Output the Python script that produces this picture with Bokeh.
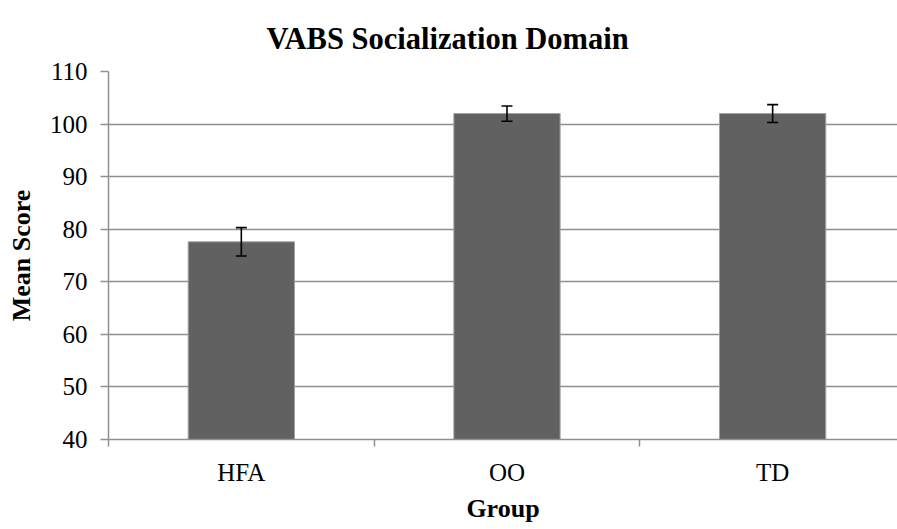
from bokeh.plotting import figure
from bokeh.models import Range1d, FixedTicker, ColumnDataSource, Whisker, TeeHead
from bokeh.embed import file_html
from bokeh.resources import INLINE

groups = ["HFA", "OO", "TD"]
means = [77.6, 102.0, 102.0]
sem = [2.7, 1.45, 1.7]
y_ticks = [40, 50, 60, 70, 80, 90, 100, 110]

FONT = "Liberation Serif"
GRID = "#8f8f8f"

xs = [i + 0.5 for i in range(len(groups))]
src = ColumnDataSource(dict(
    x=xs, top=means,
    upper=[m + s for m, s in zip(means, sem)],
    lower=[m - s for m, s in zip(means, sem)],
))

p = figure(width=897, height=529, output_backend="svg", toolbar_location=None,
           x_range=Range1d(0, 2.97), y_range=Range1d(40, 110),
           min_border_left=108, min_border_right=0, min_border_top=71,
           min_border_bottom=90)
p.outline_line_color = None

p.title.text = "VABS Socialization Domain"
p.title.text_font = FONT
p.title.text_font_size = "30.5px"
p.title.text_font_style = "bold"
p.title.text_color = "black"
p.title.align = "left"
p.title.offset = 158
p.title.standoff = 32

p.vbar(x="x", top="top", bottom=40, width=0.4, source=src,
       fill_color="#616161", line_color="#a0a0a0", line_width=1)

w = Whisker(base="x", upper="upper", lower="lower", source=src,
            line_color="black", line_width=1.6, level="overlay",
            upper_head=TeeHead(size=11, line_color="black", line_width=1.6),
            lower_head=TeeHead(size=11, line_color="black", line_width=1.6))
p.add_layout(w)

# y axis
p.yaxis.ticker = FixedTicker(ticks=y_ticks)
p.yaxis.axis_line_color = GRID
p.yaxis.axis_line_width = 1.5
p.yaxis.major_tick_line_color = GRID
p.yaxis.major_tick_line_width = 1.5
p.yaxis.major_tick_out = 8
p.yaxis.major_tick_in = 0
p.yaxis.minor_tick_line_color = None
p.yaxis.major_label_text_font = FONT
p.yaxis.major_label_text_font_size = "25px"
p.yaxis.major_label_text_color = "black"
p.yaxis.major_label_standoff = 13
p.yaxis.axis_label = "Mean Score"
p.yaxis.axis_label_text_font = FONT
p.yaxis.axis_label_text_font_size = "26px"
p.yaxis.axis_label_text_font_style = "bold"
p.yaxis.axis_label_text_color = "black"
p.yaxis.axis_label_standoff = 11

# x axis
p.xaxis.ticker = FixedTicker(ticks=xs, minor_ticks=[0, 1, 2, 3])
p.xaxis.major_label_overrides = {x: g for x, g in zip(xs, groups)}
p.xaxis.axis_line_color = GRID
p.xaxis.axis_line_width = 1.5
p.xaxis.major_tick_line_color = None
p.xaxis.major_tick_out = 0
p.xaxis.major_tick_in = 0
p.xaxis.minor_tick_line_color = GRID
p.xaxis.minor_tick_line_width = 1.5
p.xaxis.minor_tick_out = 7
p.xaxis.minor_tick_in = 0
p.xaxis.major_label_text_font = FONT
p.xaxis.major_label_text_font_size = "25px"
p.xaxis.major_label_text_color = "black"
p.xaxis.major_label_standoff = 12
p.xaxis.axis_label = "Group"
p.xaxis.axis_label_text_font = FONT
p.xaxis.axis_label_text_font_size = "26px"
p.xaxis.axis_label_text_font_style = "bold"
p.xaxis.axis_label_text_color = "black"
p.xaxis.axis_label_standoff = 5

p.xgrid.grid_line_color = None
p.ygrid.ticker = FixedTicker(ticks=y_ticks)
p.ygrid.grid_line_color = GRID
p.ygrid.grid_line_width = 1.5

open("out.html", "w").write(file_html(p, INLINE))
